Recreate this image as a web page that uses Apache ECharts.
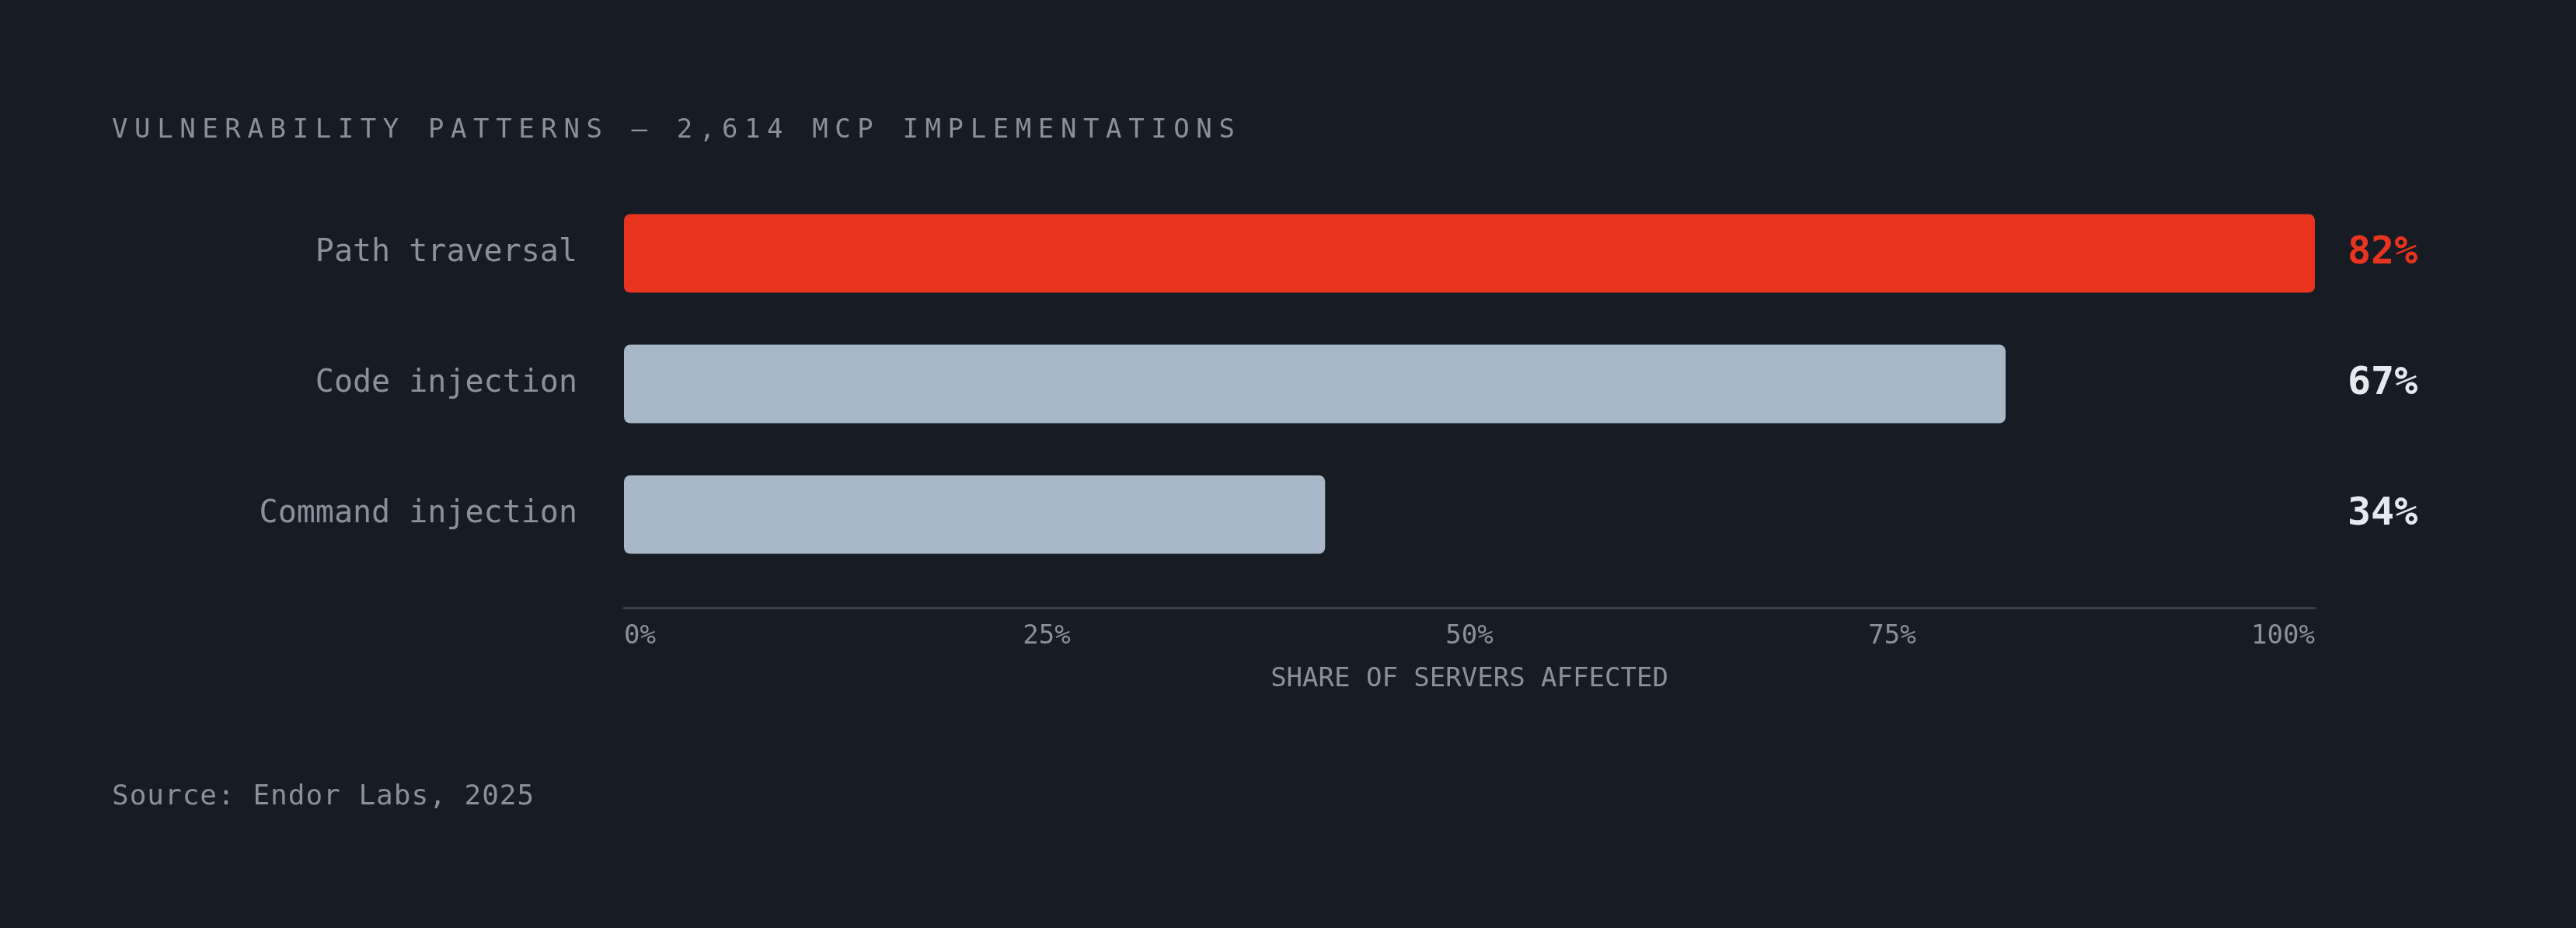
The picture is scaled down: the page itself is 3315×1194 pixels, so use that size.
<!DOCTYPE html>
<html><head><meta charset="utf-8">
<script src="https://cdn.jsdelivr.net/npm/echarts@6/dist/echarts.min.js"></script>
<style>
html,body{margin:0;padding:0;background:#161b24;}
#c{width:3315px;height:1194px;}
.t{position:absolute;font-family:"DejaVu Sans Mono","Liberation Mono",monospace;color:#8a919c;white-space:nowrap;}
</style></head><body>
<div id="c"></div>
<div class="t" id="title" style="left:144px;top:145px;font-size:34px;letter-spacing:8.6px;">VULNERABILITY PATTERNS — 2,614 MCP IMPLEMENTATIONS</div>
<div class="t" id="src" style="left:144px;top:1002px;font-size:36px;letter-spacing:1px;">Source: Endor Labs, 2025</div>
<script>
const categories = ["Path traversal", "Code injection", "Command injection"];
const values = [82, 67, 34];
const tickLabels = ["0%", "25%", "50%", "75%", "100%"];
const maxVal = 82;
const font = '"DejaVu Sans Mono","Liberation Mono",monospace';
const chart = echarts.init(document.getElementById('c'));
chart.setOption({
  backgroundColor: '#161b24',
  animation: false,
  grid: {left: 803, right: 336, top: 242, bottom: 448},
  xAxis: {
    type: 'value', min: 0, max: maxVal, interval: maxVal / 4, offset: 36,
    axisLine: {show: true, lineStyle: {color: '#3a414d', width: 3}},
    axisTick: {show: false}, splitLine: {show: false},
    axisLabel: {
      fontFamily: font, fontSize: 34, color: '#8a919c', margin: 20,
      formatter: (v) => tickLabels[Math.round(v / (maxVal / 4))],
      alignMinLabel: 'left', alignMaxLabel: 'right'
    },
    name: 'SHARE OF SERVERS AFFECTED', nameLocation: 'middle', nameGap: 75,
    nameTextStyle: {fontFamily: font, fontSize: 34, color: '#8a919c'}
  },
  yAxis: [{
    type: 'category', data: categories, inverse: true,
    axisLine: {show: false}, axisTick: {show: false},
    axisLabel: {fontFamily: font, fontSize: 40, color: '#8a919c', margin: 60}
  }, {
    type: 'category', data: values.map(v => v + '%'), inverse: true, position: 'right',
    axisLine: {show: false}, axisTick: {show: false},
    axisLabel: {
      fontFamily: font, fontSize: 50, fontWeight: 'bold', align: 'left', margin: 42,
      color: (v, i) => i === 0 ? '#e8341f' : '#e6eaf0'
    }
  }],
  series: [{
    type: 'bar', barWidth: 101,
    data: values.map((v, i) => ({value: v, itemStyle: {color: i === 0 ? '#e8341f' : '#a8b7c7', borderRadius: 8}}))
  }]
});
</script></body></html>
